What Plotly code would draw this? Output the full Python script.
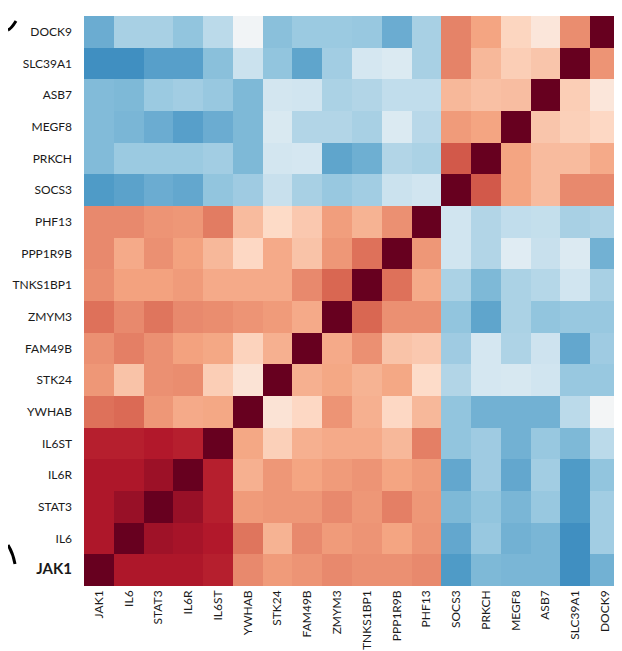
import plotly.graph_objects as go

genes_x = ["JAK1", "IL6", "STAT3", "IL6R", "IL6ST", "YWHAB", "STK24", "FAM49B", "ZMYM3",
           "TNKS1BP1", "PPP1R9B", "PHF13", "SOCS3", "PRKCH", "MEGF8", "ASB7", "SLC39A1", "DOCK9"]
genes_y = ["DOCK9", "SLC39A1", "ASB7", "MEGF8", "PRKCH", "SOCS3", "PHF13", "PPP1R9B", "TNKS1BP1",
           "ZMYM3", "FAM49B", "STK24", "YWHAB", "IL6ST", "IL6R", "STAT3", "IL6", "JAK1"]

row_DOCK9    = [-0.50, -0.33, -0.33, -0.40, -0.27, -0.03, -0.42, -0.37, -0.37, -0.38, -0.50, -0.33, 0.50, 0.40, 0.22, 0.12, 0.47, 1.00]
row_SLC39A1  = [-0.62, -0.62, -0.55, -0.55, -0.42, -0.22, -0.40, -0.53, -0.35, -0.18, -0.15, -0.33, 0.50, 0.33, 0.25, 0.28, 1.00, 0.45]
row_ASB7     = [-0.44, -0.45, -0.37, -0.35, -0.38, -0.45, -0.19, -0.20, -0.32, -0.30, -0.25, -0.25, 0.33, 0.30, 0.31, 1.00, 0.25, 0.12]
row_MEGF8    = [-0.44, -0.46, -0.50, -0.55, -0.50, -0.45, -0.16, -0.30, -0.30, -0.33, -0.15, -0.28, 0.43, 0.40, 1.00, 0.28, 0.24, 0.21]
row_PRKCH    = [-0.44, -0.37, -0.37, -0.37, -0.35, -0.45, -0.19, -0.18, -0.53, -0.49, -0.30, -0.32, 0.62, 1.00, 0.40, 0.32, 0.32, 0.38]
row_SOCS3    = [-0.57, -0.54, -0.50, -0.52, -0.40, -0.36, -0.23, -0.33, -0.38, -0.35, -0.22, -0.20, 1.00, 0.62, 0.40, 0.32, 0.48, 0.48]
row_PHF13    = [0.48, 0.48, 0.45, 0.44, 0.52, 0.32, 0.20, 0.27, 0.42, 0.35, 0.46, 1.00, -0.20, -0.30, -0.25, -0.24, -0.33, -0.31]
row_PPP1R9B  = [0.48, 0.38, 0.46, 0.41, 0.33, 0.21, 0.38, 0.29, 0.44, 0.55, 1.00, 0.44, -0.20, -0.30, -0.12, -0.23, -0.14, -0.48]
row_TNKS1BP1 = [0.47, 0.41, 0.41, 0.43, 0.38, 0.38, 0.38, 0.48, 0.58, 1.00, 0.55, 0.38, -0.32, -0.45, -0.32, -0.29, -0.20, -0.33]
row_ZMYM3    = [0.55, 0.48, 0.54, 0.48, 0.47, 0.45, 0.43, 0.38, 1.00, 0.58, 0.46, 0.46, -0.40, -0.53, -0.32, -0.40, -0.38, -0.38]
row_FAM49B   = [0.46, 0.51, 0.46, 0.41, 0.39, 0.23, 0.36, 1.00, 0.38, 0.46, 0.29, 0.27, -0.36, -0.18, -0.31, -0.21, -0.52, -0.36]
row_STK24    = [0.44, 0.29, 0.46, 0.47, 0.25, 0.14, 1.00, 0.36, 0.39, 0.35, 0.39, 0.19, -0.30, -0.18, -0.17, -0.20, -0.38, -0.38]
row_YWHAB    = [0.55, 0.57, 0.44, 0.38, 0.39, 1.00, 0.14, 0.21, 0.45, 0.36, 0.21, 0.33, -0.40, -0.48, -0.48, -0.48, -0.27, -0.02]
row_IL6ST    = [0.78, 0.78, 0.80, 0.78, 1.00, 0.39, 0.24, 0.36, 0.38, 0.38, 0.33, 0.51, -0.40, -0.36, -0.48, -0.38, -0.45, -0.27]
row_IL6R     = [0.81, 0.81, 0.86, 1.00, 0.78, 0.36, 0.44, 0.40, 0.43, 0.45, 0.40, 0.43, -0.52, -0.36, -0.52, -0.35, -0.57, -0.40]
row_STAT3    = [0.81, 0.87, 1.00, 0.87, 0.78, 0.43, 0.44, 0.44, 0.48, 0.44, 0.51, 0.44, -0.45, -0.40, -0.46, -0.38, -0.57, -0.35]
row_IL6      = [0.81, 1.00, 0.85, 0.83, 0.80, 0.54, 0.35, 0.48, 0.43, 0.45, 0.40, 0.45, -0.52, -0.38, -0.48, -0.46, -0.62, -0.35]
row_JAK1     = [1.00, 0.81, 0.81, 0.81, 0.78, 0.48, 0.43, 0.45, 0.48, 0.46, 0.46, 0.48, -0.57, -0.45, -0.46, -0.46, -0.62, -0.48]

z = [row_DOCK9, row_SLC39A1, row_ASB7, row_MEGF8, row_PRKCH, row_SOCS3, row_PHF13, row_PPP1R9B,
     row_TNKS1BP1, row_ZMYM3, row_FAM49B, row_STK24, row_YWHAB, row_IL6ST, row_IL6R, row_STAT3,
     row_IL6, row_JAK1]

rdbu_r = ['rgb(5,48,97)', 'rgb(33,102,172)', 'rgb(67,147,195)', 'rgb(146,197,222)',
          'rgb(209,229,240)', 'rgb(247,247,247)', 'rgb(253,219,199)', 'rgb(244,165,130)',
          'rgb(214,96,77)', 'rgb(178,24,43)', 'rgb(103,0,31)']
colorscale = [[i / 10, c] for i, c in enumerate(rdbu_r)]

fig = go.Figure(go.Heatmap(
    z=z, x=genes_x, y=genes_y, colorscale=colorscale, zmin=-1, zmax=1,
    showscale=False, xgap=0, ygap=0,
))

y_ticktext = [("<b><span style='font-size:15px'>%s</span></b>" % g) if g == "JAK1" else g
              for g in genes_y]

W, H = 622, 651
ML, MR, MT, MB = 76, 10, 8, 73
pw, ph = W - ML - MR, H - MT - MB


def px(x):
    return (x - ML) / pw


def py(y):
    return 1 - (y - MT) / ph


fig.update_layout(
    width=W, height=H,
    margin=dict(l=ML, r=MR, t=MT, b=MB, autoexpand=False),
    paper_bgcolor="white", plot_bgcolor="white",
    font=dict(family="Lato, 'Open Sans', sans-serif", color="#1a1a1a", size=12),
    xaxis=dict(tickangle=-90, showgrid=False, zeroline=False, ticks="",
               tickfont=dict(size=12), ticklabelstandoff=1, automargin=False),
    yaxis=dict(autorange="reversed", showgrid=False, zeroline=False, ticks="",
               tickvals=genes_y, ticktext=y_ticktext, tickfont=dict(size=12),
               ticklabelstandoff=11, automargin=False),
    shapes=[
        dict(type="path", xref="paper", yref="paper",
             path="M %.5f %.5f Q %.5f %.5f %.5f %.5f" % (px(0), py(22), px(3), py(21), px(8), py(13)),
             line=dict(color="black", width=3)),
        dict(type="path", xref="paper", yref="paper",
             path="M %.5f %.5f Q %.5f %.5f %.5f %.5f" % (px(0), py(537), px(5), py(545), px(7), py(556)),
             line=dict(color="black", width=3)),
    ],
)

fig.write_html("out.html")
